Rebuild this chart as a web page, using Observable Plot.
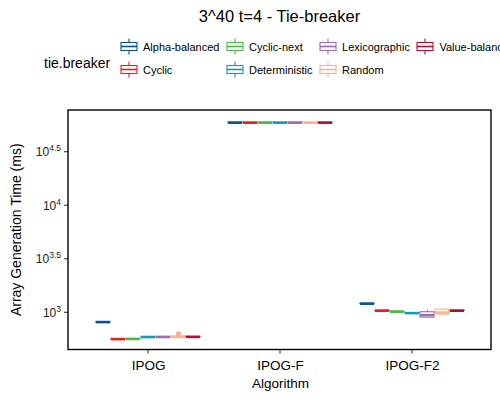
<!DOCTYPE html>
<html>
<head>
<meta charset="utf-8">
<script src="https://cdn.jsdelivr.net/npm/d3@7"></script>
<script src="https://cdn.jsdelivr.net/npm/@observablehq/plot@0.6"></script>
<style>
  html, body { margin: 0; padding: 0; background: #fff; overflow: hidden; }
  body { width: 500px; font-family: "Liberation Sans", Arial, sans-serif; }
  #head { position: relative; width: 500px; height: 98px; overflow: hidden; white-space: nowrap; }
  #title { position: absolute; left: 68px; width: 423px; top: 7px; text-align: center; font-size: 16.5px; color: #000; }
  #legtitle { position: absolute; left: 44px; top: 55px; font-size: 14px; color: #000; }
  #legend { position: absolute; left: 120px; top: 35px; display: grid; grid-auto-flow: column;
            grid-template-rows: 23px 23px; column-gap: 6.5px; }
  .item { display: flex; align-items: center; height: 23px; font-size: 11px; color: #000; }
  .item svg { margin-right: 5px; flex: none; }
  #chart svg { display: block; }
</style>
</head>
<body>
<div id="head">
  <div id="title"></div>
  <div id="legtitle"></div>
  <div id="legend"></div>
</div>
<div id="chart"></div>
<script>
const chartTitle = "3^40 t=4 - Tie-breaker";
const legendTitle = "tie.breaker";
const xLabel = "Algorithm";
const yLabel = "Array Generation Time (ms)";

const algorithms = ["IPOG", "IPOG-F", "IPOG-F2"];
const tieBreakers = ["Alpha-balanced", "Cyclic", "Cyclic-next", "Deterministic", "Lexicographic", "Random", "Value-balanced"];
const colors = ["#0b4f94", "#ec1c24", "#4cb848", "#1798bd", "#9a6cb0", "#fcb091", "#b0103a"];

// rows: algorithms, columns: tie-breakers (ms)
const medians = [
  [817, 566, 568, 592, 593, 594, 594],
  [59600, 59600, 59600, 59600, 59600, 59600, 59600],
  [1214, 1044, 1022, 991, 950, 1007, 1044]
];
const q1s = [
  [811, 562, 564, 588, 589, 586, 590],
  [59300, 59300, 59300, 59300, 59300, 59300, 59300],
  [1208, 1038, 1016, 985, 900, 960, 1038]
];
const q3s = [
  [823, 570, 572, 596, 597, 602, 598],
  [59900, 59900, 59900, 59900, 59900, 59900, 59900],
  [1220, 1050, 1028, 997, 1012, 1070, 1050]
];
const lowers = [
  [808, 560, 562, 586, 587, 582, 588],
  [59200, 59200, 59200, 59200, 59200, 59200, 59200],
  [1205, 1035, 1013, 982, 895, 930, 1035]
];
const uppers = [
  [826, 572, 574, 598, 599, 608, 600],
  [60000, 60000, 60000, 60000, 60000, 60000, 60000],
  [1223, 1053, 1031, 1000, 1058, 1090, 1053]
];
const outlierAlgorithms = ["IPOG"];
const outlierTies = ["Random"];
const outlierValues = [637];

const yDomain = [449, 77600];
const yTickExponents = [3, 3.5, 4, 4.5];

// ---- header: title + legend ----
document.getElementById("title").textContent = chartTitle;
document.getElementById("legtitle").textContent = legendTitle;
const legendSel = d3.select("#legend");
tieBreakers.forEach((t, i) => {
  const item = legendSel.append("div").attr("class", "item");
  const s = item.append("svg").attr("width", 18).attr("height", 17);
  s.append("line").attr("x1", 9).attr("x2", 9).attr("y1", 0.5).attr("y2", 16.5)
    .attr("stroke", colors[i]).attr("stroke-width", 1.1);
  s.append("rect").attr("x", 1).attr("y", 4.5).attr("width", 16).attr("height", 8)
    .attr("fill", "#fff").attr("stroke", colors[i]).attr("stroke-width", 1.1);
  s.append("line").attr("x1", 1).attr("x2", 17).attr("y1", 8.5).attr("y2", 8.5)
    .attr("stroke", colors[i]).attr("stroke-width", 1.6);
  item.append("span").text(t);
});

// ---- data table ----
const stats = algorithms.flatMap((a, i) => tieBreakers.map((t, j) => ({
  algorithm: a, tie: t,
  median: medians[i][j], q1: q1s[i][j], q3: q3s[i][j], lower: lowers[i][j], upper: uppers[i][j]
})));
const outliers = outlierValues.map((v, k) => ({algorithm: outlierAlgorithms[k], tie: outlierTies[k], value: v}));

const plot = Plot.plot({
  width: 500,
  height: 302,
  marginTop: 12,
  marginBottom: 50.5,
  marginLeft: 68,
  marginRight: 9,
  style: {fontFamily: "'Liberation Sans', Arial, sans-serif", fontSize: "13.5px", color: "#000", background: "#fff", overflow: "visible"},
  fx: {domain: algorithms, paddingInner: 0.2, paddingOuter: 0.2, label: xLabel, labelAnchor: "center",
       labelArrow: "none", tickSize: 0, tickPadding: 10, labelOffset: 38},
  x: {domain: tieBreakers, paddingInner: 0.06, paddingOuter: 0, axis: null},
  y: {type: "log", domain: yDomain, axis: null},
  color: {domain: tieBreakers, range: colors},
  marks: [
    Plot.ruleX(stats, {fx: "algorithm", x: "tie", y1: "lower", y2: "q1", stroke: "tie", strokeWidth: 1.1}),
    Plot.ruleX(stats, {fx: "algorithm", x: "tie", y1: "q3", y2: "upper", stroke: "tie", strokeWidth: 1.1}),
    Plot.barY(stats, {fx: "algorithm", x: "tie", y1: "q1", y2: "q3", fill: "white", stroke: "tie", strokeWidth: 1.1}),
    Plot.tickY(stats, {fx: "algorithm", x: "tie", y: "median", stroke: "tie", strokeWidth: 2.4}),
    Plot.dot(outliers, {fx: "algorithm", x: "tie", y: "value", fill: "tie", r: 2.6})
  ]
});

document.getElementById("chart").appendChild(plot);

const svgSel = d3.select(plot);
const fxScale = plot.scale("fx");
const yScale = plot.scale("y");
const xr = fxScale.range, yr = yScale.range;
const panelLeft = Math.min(...xr), panelRight = Math.max(...xr);
const panelTop = Math.min(...yr), panelBottom = Math.max(...yr);

// y axis drawn from the library's y scale
const axisG = svgSel.append("g").attr("font-family", "'Liberation Sans', Arial, sans-serif");
yTickExponents.forEach(e => {
  const y = yScale.apply(Math.pow(10, e));
  axisG.append("line").attr("x1", panelLeft - 4).attr("x2", panelLeft).attr("y1", y).attr("y2", y)
    .attr("stroke", "#333").attr("stroke-width", 1.1);
  const t = axisG.append("text").attr("x", panelLeft - 7).attr("y", y).attr("dy", "0.36em")
    .attr("text-anchor", "end").attr("font-size", "12px").attr("fill", "#222");
  t.append("tspan").text("10");
  t.append("tspan").attr("dy", "-0.55em").attr("font-size", "8.5px").text(String(e));
});
axisG.append("text")
  .attr("transform", `translate(${panelLeft - 52},${(panelTop + panelBottom) / 2}) rotate(-90)`)
  .attr("text-anchor", "middle").attr("dy", "0.35em").attr("font-size", "14px").attr("fill", "#000")
  .text(yLabel);

// x ticks at the category centres
algorithms.forEach(a => {
  const x = fxScale.apply(a) + fxScale.bandwidth / 2;
  axisG.append("line").attr("x1", x).attr("x2", x).attr("y1", panelBottom).attr("y2", panelBottom + 4)
    .attr("stroke", "#333").attr("stroke-width", 1.1);
});

// panel border
svgSel.append("rect")
  .attr("x", panelLeft).attr("y", panelTop)
  .attr("width", panelRight - panelLeft).attr("height", panelBottom - panelTop)
  .attr("fill", "none").attr("stroke", "#000").attr("stroke-width", 1.4);
</script>
</body>
</html>
